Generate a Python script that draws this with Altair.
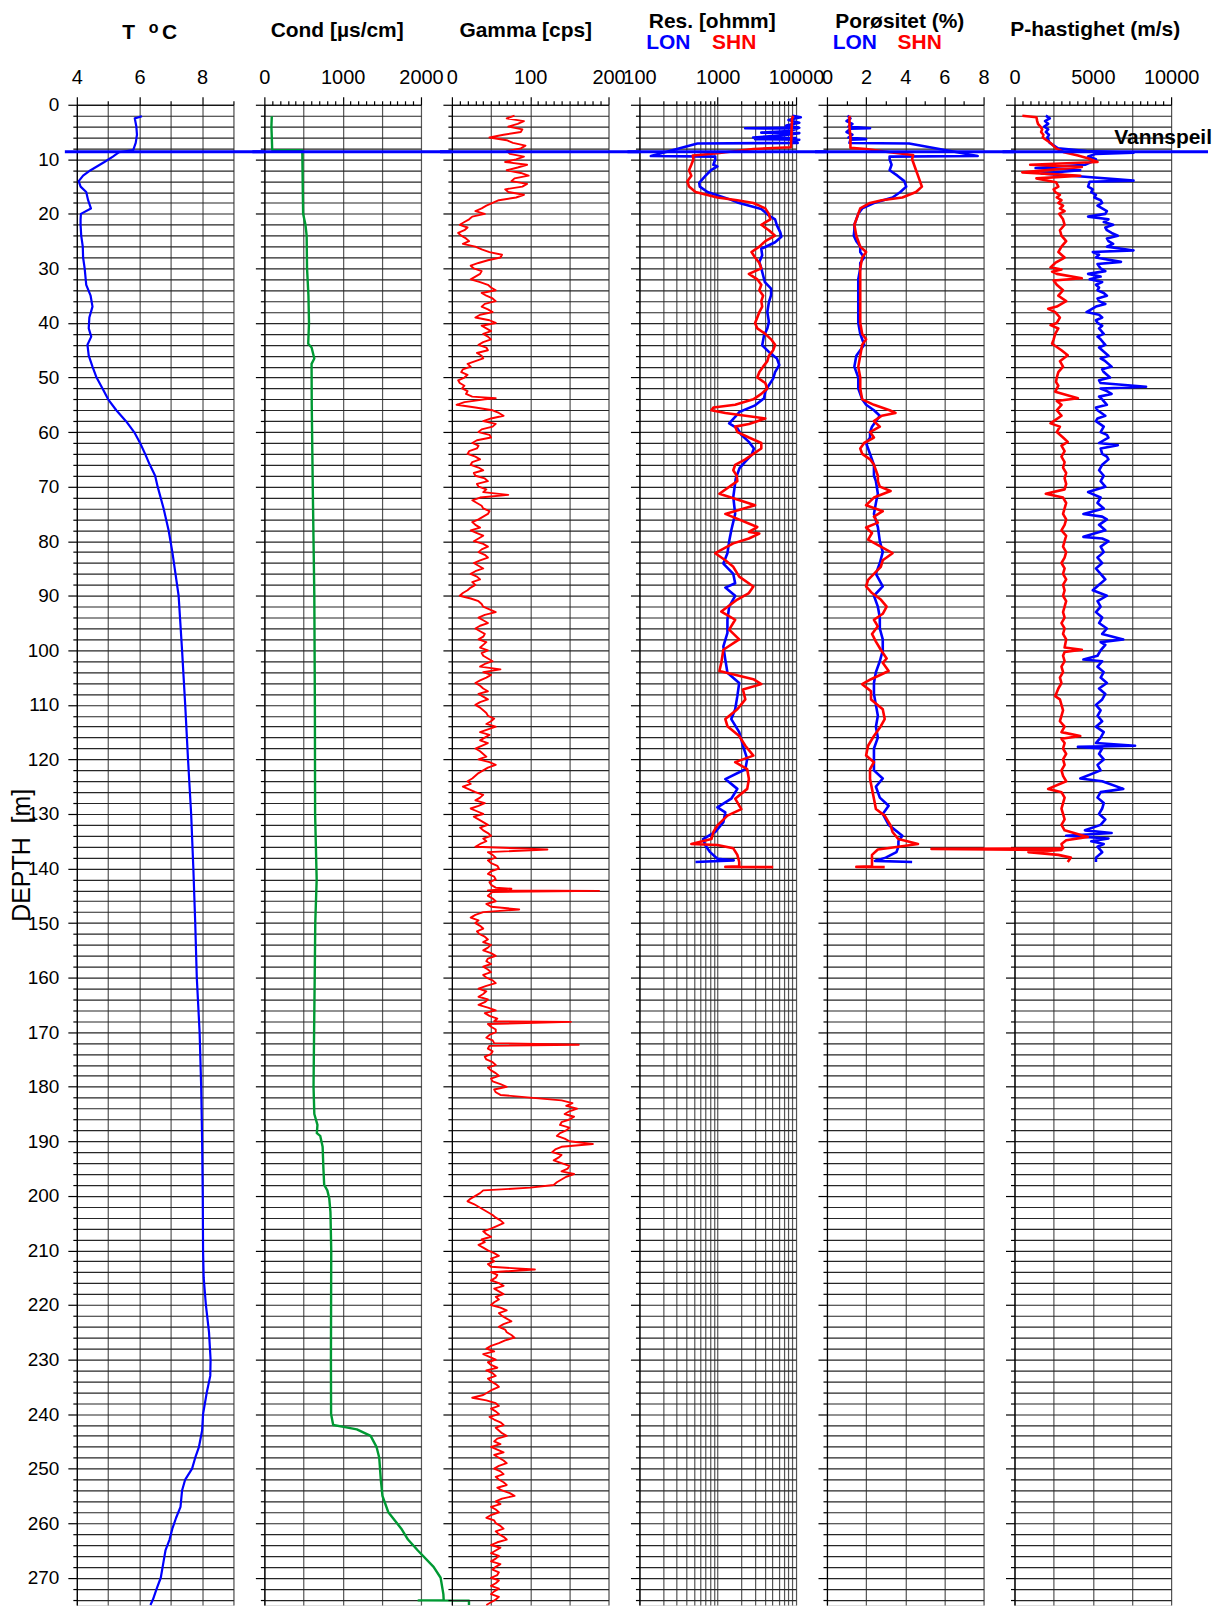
import altair as alt
import pandas as pd

FONT = "Liberation Sans"
BLUE = "#0000FF"
RED = "#FF0000"
GREEN = "#009933"
HGRID = "#262626"
VGRID = "#555555"

W = 157
GAP = 31
H = 1504
DMAX = 275
WATER = 8.6

# ---------------- data (depth [m], value) ----------------
T_LOG = [(2.1, 6.08), (2.5, 5.85), (4, 5.9), (5.5, 5.92), (7, 5.88), (8.3, 5.8), (8.7, 5.35), (9.5, 5.15),
         (10.5, 4.88), (12, 4.44), (13, 4.2), (14, 4.06), (15, 4.12), (16, 4.3), (17.5, 4.36), (19, 4.45),
         (20, 4.13), (21, 4.12), (22, 4.12), (24, 4.14), (26, 4.19), (28, 4.2), (30, 4.25), (33, 4.3),
         (35, 4.44), (37, 4.5), (39, 4.4), (41, 4.38), (42.5, 4.46), (44, 4.34), (46, 4.38), (48, 4.5),
         (50, 4.63), (52, 4.82), (54, 5.0), (56, 5.26), (58, 5.57), (60, 5.83), (62, 6.02), (64, 6.18),
         (66, 6.33), (68, 6.5), (70, 6.58), (74, 6.77), (78, 6.93), (82, 7.05), (86, 7.15), (90, 7.25),
         (100, 7.36), (110, 7.46), (120, 7.55), (130, 7.65), (140, 7.72), (150, 7.78), (160, 7.83),
         (170, 7.92), (180, 7.97), (190, 8.0), (200, 8.02), (210, 8.03), (215, 8.05), (220, 8.12),
         (225, 8.22), (230, 8.27), (233, 8.26), (236, 8.15), (240, 8.03), (243, 8.0), (246, 7.9),
         (248, 7.78), (250, 7.68), (252, 7.46), (254, 7.36), (257, 7.31), (259, 7.17), (261, 7.05),
         (263, 6.96), (265, 6.83), (267, 6.77), (270, 6.68), (272, 6.55), (274, 6.43), (275, 6.35)]

COND_LOG = [(2.1, 95), (4, 90), (6, 95), (8.3, 100), (8.35, 482), (9, 485), (15, 490), (20, 495),
            (22, 525), (24, 540), (30, 545), (35, 563), (40, 570), (43.8, 560), (44.5, 603), (46.5, 638),
            (47.5, 603), (55, 605), (70, 618), (90, 638), (110, 645), (130, 648), (142, 668), (150, 650),
            (160, 643), (170, 635), (180, 628), (185, 638), (187, 678), (188.5, 670), (189, 713),
            (191, 744), (195, 754), (198, 764), (199, 804), (200.5, 829), (203, 844), (210, 854),
            (220, 852), (230, 850), (240, 852), (242, 879), (242.3, 995), (242.8, 1181), (244, 1357),
            (246, 1432), (248, 1467), (252, 1487), (255, 1508), (258, 1583), (261, 1749), (263, 1834),
            (265, 1960), (268, 2161), (270, 2251), (273, 2286), (274.1, 2290), (274.15, 1970),
            (274.2, 2613), (275, 2613)]

GAMMA_START = 2  # first depth of the whole-metre gamma readings (half-metre readings follow at +0.5)
GAMMA_VALS = [80, 92, 72, 88, 48, 78, 88, 74, 82, 96,
              70, 98, 76, 90, 72, 82, 52, 38, 42, 22,
              10, 16, 12, 22, 30, 48, 62, 34, 28, 36,
              24, 46, 56, 44, 56, 38, 52, 30, 56, 44,
              40, 50, 34, 46, 38, 30, 24, 12, 16, 10,
              13, 18, 42, 6, 52, 66, 40, 52, 34, 50,
              26, 32, 20, 36, 24, 40, 30, 46, 34, 40,
              36, 32, 40, 46, 34, 30, 24, 40, 28, 46,
              34, 46, 28, 40, 24, 36, 30, 20, 10, 34,
              40, 56, 34, 46, 30, 42, 34, 40, 46, 40,
              52, 36, 40, 44, 30, 40, 34, 46, 30, 40,
              46, 50, 56, 36, 42, 46, 30, 40, 34, 56,
              40, 30, 20, 14, 30, 36, 42, 24, 40, 34,
              46, 40, 50, 44, 30, 46, 56, 50, 60, 46,
              56, 50, 46, 46, 56, 50, 40, 24, 30, 40,
              35, 46, 50, 40, 56, 44, 40, 50, 44, 56,
              34, 40, 46, 34, 56, 48, 54, 50, 56, 44,
              54, 46, 50, 44, 56, 50, 60, 52, 70, 56,
              100, 154, 160, 144, 150, 138, 146, 134, 150, 140,
              128, 136, 140, 148, 156, 140, 130, 40, 30, 20,
              34, 46, 56, 66, 50, 44, 38, 34, 46, 60,
              54, 50, 50, 56, 60, 54, 66, 60, 50, 70,
              64, 76, 60, 70, 80, 60, 44, 40, 56, 50,
              44, 56, 50, 60, 46, 26, 56, 50, 60, 54,
              66, 60, 70, 54, 50, 66, 60, 70, 54, 66,
              60, 70, 64, 80, 56, 50, 60, 44, 56, 66,
              60, 70, 50, 56, 60, 50, 56, 60, 50, 56,
              60, 50, 56, 44]
GAMMA_HALF = [70, 84, 90, 66, 70, 94, 70, 92, 68, 84,
              88, 80, 96, 68, 92, 60, 44, 30, 26, 16,
              20, 8, 18, 14, 38, 64, 46, 24, 38, 30,
              36, 50, 38, 52, 42, 46, 36, 48, 38, 50,
              46, 40, 44, 32, 40, 20, 14, 20, 8, 16,
              20, 26, 16, 30, 60, 50, 56, 38, 48, 32,
              34, 22, 30, 26, 34, 28, 42, 32, 44, 72,
              26, 38, 48, 40, 26, 36, 32, 34, 40, 38,
              42, 36, 34, 30, 32, 26, 24, 14, 24, 38,
              48, 42, 40, 36, 36, 40, 44, 36, 38, 46,
              42, 62, 50, 36, 36, 46, 40, 36, 36, 44,
              54, 44, 46, 48, 36, 38, 36, 44, 48, 46,
              34, 26, 24, 22, 40, 30, 34, 32, 28, 40,
              36, 46, 40, 36, 122, 52, 46, 58, 50, 54,
              48, 56, 50, 52, 44, 86, 30, 34, 36, 32,
              42, 40, 46, 50, 46, 50, 46, 40, 52, 44,
              44, 34, 42, 46, 42, 58, 46, 56, 48, 52,
              48, 52, 42, 52, 46, 56, 50, 62, 54, 62,
              140, 146, 150, 156, 140, 150, 138, 144, 180, 132,
              140, 130, 150, 140, 146, 134, 100, 36, 24, 28,
              40, 52, 62, 58, 40, 50, 42, 40, 54, 50,
              46, 106, 58, 50, 66, 60, 56, 54, 62, 60,
              70, 66, 68, 76, 68, 50, 54, 48, 46, 58,
              52, 46, 56, 52, 40, 44, 60, 56, 48, 62,
              56, 64, 58, 62, 58, 54, 66, 60, 62, 56,
              66, 58, 74, 64, 62, 56, 50, 54, 62, 56,
              66, 58, 62, 50, 56, 62, 52, 58, 60, 50,
              54, 60, 50]
GAMMA_SPIKES = [(53.8, 56), (143.7, 76), (144.1, 188), (144.3, 52), (168.1, 152), (172.3, 162)]

RES_LON = [(2.0, 9000), (2.3, 11500), (2.8, 8000), (3.3, 11000), (3.8, 7500), (4.2, 11000), (4.3, 2240),
           (4.4, 10500), (4.8, 8000), (5.1, 3600), (5.2, 11000), (5.6, 7000), (6.0, 2830), (6.1, 10000),
           (6.3, 3000), (6.4, 11000), (6.8, 9000), (7.0, 10500), (7.1, 550), (9.4, 140), (9.5, 930),
           (10, 930), (11, 880), (11.3, 990), (12, 820), (13, 700), (14.3, 580), (15, 590), (16, 740),
           (17.3, 1400), (17.9, 1780), (19.1, 3600), (20.3, 4500), (21, 5400), (22.1, 5700), (23.4, 6300),
           (24.2, 6500), (25.2, 5400), (26.4, 3600), (27.6, 3700), (28.8, 3400), (30, 3600), (31.3, 3800),
           (32.5, 4000), (33.7, 4800), (34.9, 4800), (36.2, 4500), (38, 4300), (39.8, 4500), (41, 4300),
           (42.3, 3900), (44.1, 3700), (45.3, 4500), (46.5, 5700), (47.7, 6100), (49, 5400), (50.2, 5100),
           (51.4, 4500), (52.6, 4050), (53.8, 3900), (55.1, 3000), (56.3, 1900), (57.2, 1670), (58.4, 1400),
           (59.3, 1780), (60.5, 2000), (61.8, 2500), (63, 2900), (64.2, 2700), (65.4, 2250), (66.6, 1900),
           (68.5, 1700), (71.9, 1580), (75, 1670), (78, 1490), (80, 1400), (82.2, 1330), (84.1, 1180),
           (86, 1580), (87.7, 1670), (88.5, 1250), (90, 1670), (92, 1400), (94.4, 1330), (96.8, 1330),
           (99.3, 1180), (101.7, 1250), (104.1, 1330), (106, 1880), (108.4, 1780), (110.8, 1670),
           (112.6, 1490), (115, 1880), (117.5, 2100), (119.9, 2380), (121.8, 2250), (123.6, 1250),
           (125.4, 1780), (127.2, 1490), (128.8, 990), (129.7, 1250), (131.5, 1180), (133.3, 930),
           (134.6, 650), (135.7, 690), (137, 800), (138.2, 990), (138.5, 1600), (138.8, 520)]

RES_SHN = [(2.0, 9200), (2.5, 8900), (4, 8800), (6, 8700), (7.8, 8600), (8.1, 2850), (8.9, 990), (9.3, 480),
           (10, 490), (11, 460), (12, 430), (13, 460), (14, 410), (15, 430), (16, 520), (17, 990),
           (17.5, 1780), (18, 2850), (18.5, 3400), (19, 4050), (20, 4500), (21, 4700), (22, 3600),
           (23, 4500), (24, 5400), (25, 4050), (26, 3400), (27, 2700), (28, 3000), (29, 3400), (30, 3600),
           (31, 2500), (32, 3200), (33, 3600), (34, 3400), (35, 3800), (36, 3600), (37, 3700), (38, 3400),
           (39, 3200), (40, 3000), (41, 3200), (42, 4050), (43, 4800), (44, 5400), (45, 5100), (46, 4500),
           (47, 4300), (48, 3800), (49, 3400), (50, 3200), (51, 4050), (52, 4300), (53, 3600), (54, 2850),
           (55, 1670), (55.5, 880), (56, 830), (56.5, 1250), (57, 2250), (57.5, 4050), (58, 3200),
           (58.5, 2500), (59, 1670), (60, 1780), (61, 2500), (62, 3600), (63, 3600), (64, 2850),
           (65, 2250), (66, 1670), (67, 1580), (68, 1750), (69, 1780), (71.3, 1050), (73.4, 3000),
           (75, 1250), (77.4, 3200), (78.3, 2500), (78.6, 3400), (79.5, 2500), (80.4, 1580), (82.2, 930),
           (83.5, 1250), (84.7, 1580), (86.5, 1880), (88.3, 2850), (89.5, 2500), (90.7, 1780), (92.9, 1110),
           (94.4, 1670), (96.2, 1400), (98, 1880), (99.9, 1180), (102.3, 1110), (103.8, 1050),
           (105.3, 2850), (106.2, 3600), (107.2, 2100), (109, 2250), (110.8, 1780), (112.6, 1250),
           (113.9, 1330), (115.7, 1880), (117.5, 2250), (119.3, 2850), (120.5, 1670), (121.8, 2380),
           (123.6, 2500), (125.4, 2380), (127.2, 1670), (129.1, 2000), (130.3, 1330), (132.1, 990),
           (133.3, 880), (134.6, 830), (135.5, 460), (135.7, 990), (136.3, 1580), (137.5, 1780),
           (138.8, 1880), (139.6, 1880), (139.7, 1250), (139.75, 5100)]

POR_LON = [(2.0, 1.05), (2.5, 1.2), (3.0, 1.0), (3.5, 1.3), (4.0, 1.1), (4.3, 2.2), (4.4, 1.2), (5.0, 1.0),
           (5.5, 1.3), (6.0, 1.1), (6.3, 2.0), (6.4, 1.2), (7.0, 1.15), (7.1, 4.2), (9.4, 7.7), (9.5, 3.2),
           (10, 3.2), (11, 3.3), (12, 3.2), (13, 3.6), (14, 3.95), (15, 4.05), (16, 3.75), (17, 3.35),
           (18, 2.4), (19, 1.8), (20, 1.6), (21, 1.5), (22, 1.4), (23, 1.4), (24, 1.37), (25, 1.5),
           (26, 1.7), (27, 1.7), (28, 1.9), (29, 1.7), (30, 1.7), (32, 1.6), (34, 1.6), (36, 1.6),
           (38, 1.6), (40, 1.6), (42, 1.7), (44, 1.9), (46, 1.5), (48, 1.4), (50, 1.6), (52, 1.6),
           (54, 1.8), (55, 2.0), (56, 2.4), (57, 2.7), (58, 2.5), (59, 2.3), (60, 2.2), (61, 2.2),
           (62, 2.0), (63, 2.1), (64, 2.2), (65, 2.3), (66, 2.4), (67, 2.4), (68, 2.4), (69, 2.5),
           (71.3, 2.6), (73, 2.5), (75, 2.4), (77.4, 2.6), (80, 2.7), (82, 2.85), (84, 2.7), (86, 2.5),
           (88.3, 2.85), (90, 2.4), (92, 2.6), (94, 2.7), (96, 2.7), (98, 2.85), (100, 2.85), (102, 2.7),
           (104, 2.5), (106, 2.4), (108, 2.4), (110, 2.5), (112, 2.6), (114, 2.5), (116, 2.6), (118, 2.4),
           (120, 2.4), (122, 2.4), (123.5, 2.85), (125, 2.5), (127, 2.7), (128.5, 3.15), (130, 2.85),
           (132, 3.15), (134, 3.85), (135, 3.65), (136, 3.65), (137, 3.55), (138, 3.0), (138.6, 2.45),
           (138.8, 4.35)]

POR_SHN = [(2.0, 1.15), (4, 1.15), (6, 1.2), (7.9, 1.2), (8.1, 2.0), (8.7, 3.2), (9.2, 4.4), (10, 4.35),
           (11, 4.45), (12, 4.55), (13, 4.65), (14, 4.75), (15, 4.85), (16, 4.55), (17, 3.85), (17.5, 2.8),
           (18, 2.2), (19, 1.7), (20, 1.6), (21, 1.5), (22, 1.4), (24, 1.5), (26, 1.7), (27, 2.0),
           (28, 1.8), (30, 1.7), (32, 1.7), (34, 1.7), (36, 1.7), (38, 1.7), (40, 1.7), (42, 1.8),
           (43, 2.0), (44, 1.8), (46, 1.7), (48, 1.6), (50, 1.7), (52, 1.7), (54, 1.8), (55, 2.4),
           (56, 3.2), (56.5, 3.5), (57, 2.8), (58, 2.4), (59, 2.7), (60, 2.2), (61, 2.4), (62, 1.9),
           (63, 1.7), (64, 1.8), (65, 2.2), (66, 2.4), (67, 2.5), (68, 2.6), (69, 2.6), (70, 2.7),
           (70.8, 3.25), (72, 2.4), (73.4, 2.0), (74.5, 2.85), (75.5, 2.4), (76.6, 2.6), (77.5, 2.0),
           (78.5, 2.3), (79.7, 2.1), (81, 2.75), (82.2, 3.35), (83.5, 2.85), (84.7, 2.75), (86, 2.4),
           (87.1, 2.1), (88.3, 2.0), (89.5, 2.3), (90.7, 2.75), (92, 3.05), (93.3, 2.85), (94.4, 2.4),
           (95.6, 2.6), (97, 2.3), (98.4, 2.5), (99.9, 2.75), (101.5, 3.05), (102.3, 2.85), (103.8, 3.15),
           (105.3, 2.25), (106.2, 1.8), (107.5, 2.25), (109, 2.25), (110.8, 2.85), (112.6, 2.95),
           (113.9, 2.75), (115.7, 2.4), (117.5, 2.1), (119.3, 2.0), (120.5, 2.4), (121.8, 2.2),
           (123.6, 2.2), (125.4, 2.3), (127.2, 2.4), (129.1, 2.5), (130.3, 2.95), (132.1, 3.25),
           (133.3, 3.35), (134.6, 3.65), (135.5, 4.65), (136, 3.65), (136.5, 2.6), (137.5, 2.3),
           (138.8, 2.3), (139.6, 2.3), (139.7, 1.5), (139.75, 2.95)]

VP_LON = [(2.0, 2000), (2.5, 2250), (3, 1950), (3.5, 2150), (4, 1900), (4.5, 2150), (5, 2000), (5.5, 2200),
          (6, 2100), (7, 2250), (8, 2780), (8.5, 4600), (8.8, 7600), (9.0, 5200), (9.5, 4700), (10, 5200),
          (10.5, 4900), (11, 4500), (11.6, 1350), (12.0, 4200), (12.6, 1700), (13.2, 4500), (13.9, 7600),
          (14.1, 4800), (15, 4700), (15.5, 5000), (16, 4900), (16.5, 5200), (17, 5100), (17.5, 5500),
          (18, 5600), (18.5, 5300), (19, 5600), (19.5, 5900), (20, 5800), (20.5, 4700), (21, 6000),
          (21.5, 5700), (22, 6300), (22.5, 5800), (23, 5900), (23.5, 6200), (24, 6600), (24.5, 5900),
          (25, 6000), (25.5, 6300), (26, 5900), (26.7, 7600), (27, 5000), (27.5, 5400), (28, 5200),
          (28.8, 6800), (29.2, 5300), (30, 5500), (30.5, 5800), (31, 4700), (31.5, 5500), (32, 4800),
          (32.5, 5600), (33, 5200), (33.5, 5400), (34, 5300), (34.5, 5700), (35, 5900), (35.5, 5300),
          (36, 5400), (36.5, 5800), (37, 5200), (38, 4600), (38.5, 5400), (39, 5600), (39.5, 5200),
          (40, 5300), (40.5, 5600), (41, 5400), (42, 5700), (42.5, 5300), (43, 5500), (44, 5800),
          (44.5, 5400), (45, 5600), (46, 6000), (46.5, 5500), (47, 5800), (48, 6200), (48.5, 5600),
          (49, 5700), (50, 6100), (50.5, 5400), (51, 5500), (51.7, 8400), (52, 5500), (52.5, 5900),
          (53, 6200), (53.5, 5400), (54, 5600), (55, 5900), (55.5, 5200), (56, 5300), (57, 5800),
          (57.5, 5300), (58, 5200), (59, 5700), (60, 5500), (60.5, 5900), (61, 6000), (62, 5400),
          (62.4, 6600), (63, 5500), (64, 5600), (64.5, 5900), (65, 6000), (66, 5600), (67, 5400),
          (68, 5700), (69, 5500), (70, 5800), (71, 4700), (72, 5500), (73, 5300), (74, 5700), (75, 4400),
          (75.5, 5600), (76, 5900), (77, 5400), (78, 5800), (79.2, 4400), (79.5, 5600), (80, 6000),
          (81, 5500), (82, 5700), (83, 5300), (84, 5600), (85, 5200), (86, 5500), (87, 5800), (88, 5400),
          (89, 5000), (90, 5900), (91, 5300), (92, 5500), (93, 5200), (94, 5600), (95, 5400), (96, 5900),
          (97, 5600), (98, 6950), (98.5, 5500), (99, 5800), (100, 5500), (101, 5300), (101.7, 4400),
          (102, 5600), (103, 5300), (104, 5700), (105, 5500), (106, 5900), (107, 5400), (108, 5800),
          (109, 5600), (110, 5200), (111, 5500), (112, 5300), (113, 5600), (114, 5200), (115, 5700),
          (116, 5500), (117, 5200), (117.5, 7700), (117.7, 4050), (118, 5600), (119, 5400), (120, 5700),
          (121, 5300), (122, 5500), (123.5, 4200), (124, 5600), (125.4, 6950), (126, 5500), (127, 5300),
          (128, 5700), (129, 5600), (130, 5400), (131, 5800), (132, 5500), (133, 4500), (133.5, 6200),
          (134, 3300), (134.5, 6000), (135, 4900), (135.5, 5700), (136, 5300), (137, 5600), (138, 5200),
          (138.8, 5200)]

VP_SHN = [(2.0, 500), (2.3, 1400), (3, 1450), (3.5, 1500), (4, 1650), (4.5, 1770), (5, 1700), (5.5, 1850),
          (6, 1800), (7, 2300), (8, 2650), (8.7, 3160), (9.3, 4050), (9.8, 4680), (10.5, 5300), (11.0, 1000),
          (11.4, 4300), (12.4, 500), (13.0, 4200), (13.5, 1400), (14.2, 2650), (15, 2800), (15.5, 2500),
          (16, 2600), (16.5, 2900), (17, 2700), (17.5, 3000), (18, 2800), (18.5, 3100), (19, 2900),
          (19.5, 3200), (20, 2850), (21, 3100), (22, 3200), (23, 2900), (24, 3000), (25, 3300), (26, 3000),
          (27, 2800), (28, 3200), (29, 2600), (29.8, 2300), (30.2, 3000), (30.6, 2400), (31, 2700),
          (31.8, 4300), (32.2, 2500), (33, 2700), (34, 3100), (35, 2800), (36, 3300), (37, 2700),
          (37.4, 2150), (38, 2600), (39, 2900), (40, 2700), (40.4, 2300), (41, 2800), (42, 2600),
          (43, 2500), (43.8, 2400), (45, 3000), (45.9, 3400), (47, 2900), (48, 3100), (49, 2800),
          (50, 2700), (50.8, 2650), (51.5, 2800), (52.6, 2600), (53.8, 4050), (54.3, 2700), (55, 3000),
          (56, 2700), (57, 3000), (58.4, 2300), (59, 2900), (60, 2700), (61, 3100), (61.8, 3400),
          (62.5, 3000), (63.5, 3200), (64.5, 3000), (65.5, 3200), (66.5, 3100), (67.5, 3300), (68.5, 3200),
          (69.5, 3300), (70.5, 3200), (71.3, 2000), (72, 3100), (73, 3300), (74, 3200), (75, 3100),
          (76, 3300), (77, 3200), (78, 3000), (79, 3300), (80, 3200), (81, 3100), (82, 3300), (83, 3200),
          (84, 3000), (85, 3200), (86, 3100), (87, 3300), (88, 3100), (89, 3200), (90, 3100), (91, 3300),
          (92, 3200), (93, 3100), (94, 3200), (95, 3000), (96, 3200), (97, 3100), (98, 3300), (99.5, 3200),
          (99.9, 4300), (100.3, 3200), (101, 3100), (102, 3200), (103, 3000), (104, 3100), (105, 2900),
          (106, 3000), (107, 2800), (108.4, 2600), (109, 2900), (110, 3000), (111, 3100), (112, 3000),
          (113, 2900), (114, 3200), (115, 3000), (115.7, 4200), (116.2, 3000), (117, 3200), (118, 3100),
          (119, 3300), (120, 3100), (121, 3200), (122, 3000), (123, 3100), (124, 3300), (125.4, 2150),
          (126, 3000), (127, 3200), (128, 3100), (129, 3000), (130, 3100), (131, 3200), (132, 3000),
          (133, 3200), (134.2, 4680), (134.8, 3300), (135.5, 3000), (136.3, 3100), (136.4, -5300),
          (136.6, 3000), (137, 890), (137.5, 2800), (138, 3600), (138.8, 3400)]

# ---------------- axis helpers ----------------
Y_TICKS = list(range(0, DMAX + 1, 2))


def y_enc(first):
    ax = dict(orient="left", values=Y_TICKS, tickCount=1000, grid=True, gridColor=HGRID, gridWidth=1.2,
              gridOpacity=1, domain=True, domainColor="#000000", domainWidth=1.2,
              ticks=True, tickColor="#000000", tickWidth=1.2,
              tickSize={"condition": {"test": "datum.value % 10 === 0", "value": 9}, "value": 4},
              labels=first, labelOverlap=False, labelFlush=False, labelBound=False,
              labelFont=FONT, labelFontSize=19, labelColor="#000000", labelPadding=9, format="d",
              labelExpr="datum.value % 10 === 0 ? datum.label : ''", title="")
    if first:
        ax.update(title="DEPTH\u00a0 [m]", titleFont=FONT, titleFontSize=25, titleFontWeight="normal",
                  titleColor="#000000", titleX=-55, titleAngle=270, titleBaseline="middle",
                  titleAlign="center")
    return alt.Y("depth:Q", scale=alt.Scale(domain=[0, DMAX], reverse=True, nice=False, zero=False),
                 axis=alt.Axis(**ax))


def x_enc(domain, values, grid_test, label_test, log=False):
    if log:
        sc = alt.Scale(type="log", domain=domain, nice=False)
    else:
        sc = alt.Scale(domain=domain, nice=False, zero=False)
    ax = alt.Axis(orient="top", values=values, tickCount=1000, grid=True, gridColor=VGRID, gridWidth=1.2,
                  gridOpacity={"condition": {"test": grid_test, "value": 1}, "value": 0},
                  domain=True, domainColor="#000000", domainWidth=1.2,
                  ticks=True, tickColor="#000000", tickWidth=1.2,
                  tickSize={"condition": {"test": label_test, "value": 8}, "value": 4},
                  labelOverlap=False, labelFlush=False, labelBound=False,
                  labelFont=FONT, labelFontSize=20, labelColor="#000000", labelPadding=9,
                  format="d", labelExpr="(" + label_test + ") ? datum.label : ''", title="")
    return alt.X("v:Q", scale=sc, axis=ax)


ONE = pd.DataFrame({"k": [0]})


def frame(pairs):
    return pd.DataFrame(pairs, columns=["depth", "v"])


def curve(pairs, xe, ye, color, width):
    return alt.Chart(frame(pairs)).mark_line(color=color, strokeWidth=width, strokeJoin="round").encode(
        x=xe, y=ye, order=alt.Order("depth:Q"))


def text(t, x, y, color="#000000", size=21, weight="bold", align="center"):
    return alt.Chart(ONE).mark_text(text=t, color=color, fontSize=size, fontWeight=weight, font=FONT,
                                    align=align, baseline="middle").encode(x=alt.value(x), y=alt.value(y))


def water(x2):
    return alt.Chart(pd.DataFrame({"depth": [WATER]})).mark_rule(color=BLUE, strokeWidth=3).encode(
        y="depth:Q", x=alt.value(-12), x2=alt.value(x2))


def panel(layers):
    return alt.layer(*layers).properties(width=W, height=H)


# ---------------- panels ----------------
y1 = y_enc(True)
yo = y_enc(False)

xt = x_enc([4, 9], [4 + 0.25 * i for i in range(21)], "datum.value % 1 === 0", "datum.value % 2 === 0")
p1 = panel([curve(T_LOG, xt, y1, BLUE, 2.2), water(W + GAP),
            text("T", 52, -71.5), text("o", 77, -77, size=16), text("C", 93, -71.5)])

xc = x_enc([0, 2000], list(range(0, 2001, 100)), "datum.value % 500 === 0", "datum.value % 1000 === 0")
p2 = panel([curve(COND_LOG, xc, yo, GREEN, 2.4), water(W + GAP), text("Cond [\u00b5s/cm]", 73, -74)])

gamma_pairs = ([(GAMMA_START + i, v) for i, v in enumerate(GAMMA_VALS)]
               + [(GAMMA_START + 0.5 + i, v) for i, v in enumerate(GAMMA_HALF)]
               + GAMMA_SPIKES)
xg = x_enc([0, 200], list(range(0, 201, 10)), "datum.value % 50 === 0", "datum.value % 100 === 0")
p3 = panel([curve(gamma_pairs, xg, yo, RED, 1.9), water(W + GAP), text("Gamma [cps]", 74, -74)])

RES_TICKS = [m * 10 ** e for e in (2, 3) for m in range(1, 10)] + [10000]
dec = "datum.value === 100 || datum.value === 1000 || datum.value === 10000"
xr = x_enc([100, 10000], RES_TICKS, "true", dec, log=True)
p4 = panel([curve(RES_LON, xr, yo, BLUE, 2.6), curve(RES_SHN, xr, yo, RED, 2.6), water(W + GAP),
            text("Res. [ohmm]", 73, -83), text("LON", 29, -62, color=BLUE), text("SHN", 95, -62, color=RED)])

xp = x_enc([0, 8], [0.5 * i for i in range(17)], "datum.value % 2 === 0", "datum.value % 2 === 0")
p5 = panel([curve(POR_LON, xp, yo, BLUE, 2.6), curve(POR_SHN, xp, yo, RED, 2.6), water(W + GAP),
            text("Por\u00f8sitet (%)", 73, -83), text("LON", 28, -62, color=BLUE),
            text("SHN", 93, -62, color=RED)])

xv = x_enc([0, 10000], list(range(0, 10001, 500)), "datum.value % 2500 === 0", "datum.value % 5000 === 0")
p6 = panel([curve(VP_LON, xv, yo, BLUE, 2.6), curve(VP_SHN, xv, yo, RED, 2.6), water(194),
            text("P-hastighet (m/s)", 81, -75), text("Vannspeil", 100, 33.5, align="left")])

chart = alt.hconcat(p1, p2, p3, p4, p5, p6, spacing=GAP, bounds="flush").properties(
    padding={"left": 1, "top": 0, "right": 0, "bottom": 0}, background="#ffffff"
).configure_view(stroke="#000000", strokeWidth=1.2).configure(font=FONT)

chart.save("out.html", embed_options={"renderer": "svg", "actions": False})
